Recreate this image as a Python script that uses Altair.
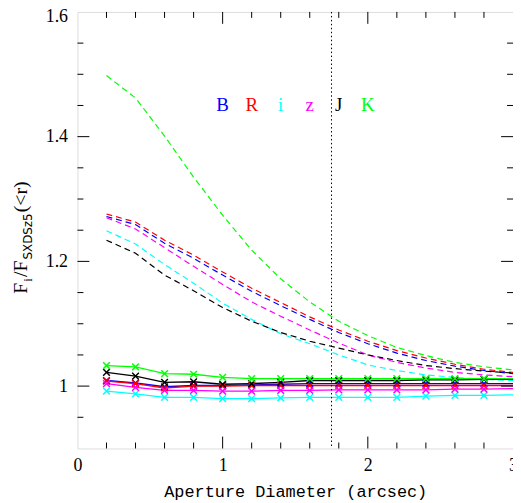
import altair as alt
import pandas as pd

# ---------------- data ----------------
bands = ["B", "R", "i", "z", "J", "K"]
band_colors = ["#0000ff", "#ff0000", "#00ffff", "#ff00ff", "#000000", "#00ff00"]

aperture = [0.2, 0.4, 0.6, 0.8, 1.0, 1.2, 1.4, 1.6, 1.8, 2.0, 2.2, 2.4, 2.6, 2.8, 3.0]

# solid lines (with x markers)
solid_B = [1.009, 1.005, 0.999, 1.001, 1.001, 1.002, 1.003, 1.004, 1.004, 1.004, 1.004, 1.004, 1.004, 1.004, 1.004]
solid_R = [1.008, 1.004, 0.997, 1.000, 1.000, 1.001, 1.001, 1.001, 1.001, 1.001, 1.001, 1.001, 1.001, 1.001, 1.001]
solid_i = [0.992, 0.9875, 0.982, 0.982, 0.980, 0.980, 0.981, 0.982, 0.982, 0.982, 0.982, 0.984, 0.985, 0.985, 0.986]
solid_z = [1.004, 0.998, 0.993, 0.993, 0.992, 0.992, 0.993, 0.993, 0.994, 0.994, 0.994, 0.994, 0.995, 0.995, 0.996]
solid_J = [1.022, 1.016, 1.006, 1.007, 1.003, 1.004, 1.006, 1.009, 1.009, 1.009, 1.009, 1.010, 1.010, 1.011, 1.011]
solid_K = [1.033, 1.031, 1.020, 1.019, 1.014, 1.012, 1.012, 1.012, 1.012, 1.012, 1.012, 1.012, 1.012, 1.012, 1.012]

# dashed lines
dash_B = [1.272, 1.259, 1.229, 1.205, 1.178, 1.152, 1.129, 1.107, 1.086, 1.068, 1.053, 1.041, 1.032, 1.025, 1.020]
dash_R = [1.276, 1.263, 1.234, 1.210, 1.183, 1.157, 1.134, 1.111, 1.090, 1.072, 1.057, 1.045, 1.035, 1.027, 1.022]
dash_i = [1.249, 1.228, 1.195, 1.165, 1.133, 1.107, 1.084, 1.068, 1.050, 1.034, 1.025, 1.018, 1.014, 1.011, 1.009]
dash_z = [1.270, 1.252, 1.222, 1.192, 1.163, 1.135, 1.112, 1.090, 1.069, 1.050, 1.038, 1.029, 1.022, 1.018, 1.015]
dash_J = [1.234, 1.213, 1.178, 1.153, 1.126, 1.104, 1.086, 1.072, 1.061, 1.050, 1.041, 1.033, 1.028, 1.024, 1.021]
dash_K = [1.498, 1.462, 1.401, 1.335, 1.274, 1.218, 1.172, 1.135, 1.104, 1.081, 1.062, 1.049, 1.038, 1.031, 1.026]

vline_x = 1.75

x_major = [1, 2]
x_minor = [0.2, 0.4, 0.6, 0.8, 1.2, 1.4, 1.6, 1.8, 2.2, 2.4, 2.6, 2.8]
y_major = [1.0, 1.2, 1.4]
y_minor = [0.95, 1.05, 1.1, 1.15, 1.25, 1.3, 1.35, 1.45, 1.5, 1.55]

label_x = [1.0, 1.2, 1.4, 1.6, 1.8, 2.0]
label_y = 1.45

# ---------------- tables ----------------
solid = {"B": solid_B, "R": solid_R, "i": solid_i, "z": solid_z, "J": solid_J, "K": solid_K}
dashed = {"B": dash_B, "R": dash_R, "i": dash_i, "z": dash_z, "J": dash_J, "K": dash_K}

rows_s, rows_d = [], []
for b in bands:
    for xv, yv in zip(aperture, solid[b]):
        rows_s.append({"x": xv, "y": yv, "band": b})
    for xv, yv in zip(aperture, dashed[b]):
        rows_d.append({"x": xv, "y": yv, "band": b})
df_s = pd.DataFrame(rows_s)
df_d = pd.DataFrame(rows_d)
df_lab = pd.DataFrame({"band": bands, "x": label_x, "y": [label_y] * len(bands)})

W, H = 439, 440
xs = alt.Scale(domain=[0, 3], nice=False, zero=False)
ys = alt.Scale(domain=[0.9, 1.6], nice=False, zero=False)
cs = alt.Scale(domain=bands, range=band_colors)

SERIF = "Liberation Serif"
MONO = "Liberation Mono"

X = alt.X("x:Q", scale=xs,
          axis=alt.Axis(values=[0, 1, 2, 3], format="d", domain=False, ticks=False, grid=False,
                        labelFont=SERIF, labelFontSize=18, labelColor="black", labelPadding=8,
                        labelFlush=False, labelOverlap=False,
                        title="Aperture Diameter (arcsec)", titleFont=MONO, titleFontSize=17,
                        titleFontWeight="normal", titleColor="black", titlePadding=9))
Y = alt.Y("y:Q", scale=ys,
          axis=alt.Axis(values=[1.0, 1.2, 1.4, 1.6], format="~g", domain=False, ticks=False, grid=False,
                        labelFont=SERIF, labelFontSize=18, labelColor="black", labelPadding=10,
                        labelOffset={"condition": {"test": "datum.value >= 1.59", "value": 5}, "value": 0},
                        labelFlush=False, labelOverlap=False, title=None))
C = alt.Color("band:N", scale=cs, legend=None)

dash_layer = alt.Chart(df_d).mark_line(strokeWidth=1.2, strokeDash=[6, 4], clip=True).encode(
    x=X, y=Y, color=C, detail="band:N")
solid_layer = alt.Chart(df_s).mark_line(strokeWidth=1.3, clip=True).encode(
    x=X, y=Y, color=C, detail="band:N")
marks_layer = alt.Chart(df_s).transform_filter("datum.x <= 2.85").mark_point(
    shape="M-1,-1L1,1M-1,1L1,-1", size=45, filled=False, strokeWidth=1.5, opacity=1).encode(
    x=X, y=Y, color=C, detail="band:N")

vline = alt.Chart(pd.DataFrame({"x": [vline_x]})).mark_rule(
    color="black", strokeWidth=1, strokeDash=[1.5, 2.5]).encode(x=alt.X("x:Q", scale=xs))

labels = alt.Chart(df_lab).mark_text(font=SERIF, fontSize=19, baseline="middle", align="center").encode(
    x=alt.X("x:Q", scale=xs), y=alt.Y("y:Q", scale=ys), text="band:N", color=C)

# inward tick marks on all four sides
def xticks(vals, length):
    d = pd.DataFrame({"x": vals})
    bot = alt.Chart(d).mark_rule(color="black", strokeWidth=1).encode(
        x=alt.X("x:Q", scale=xs), y=alt.value(H), y2=alt.value(H - length))
    top = alt.Chart(d).mark_rule(color="black", strokeWidth=1).encode(
        x=alt.X("x:Q", scale=xs), y=alt.value(0), y2=alt.value(length))
    return [bot, top]

def yticks(vals, length):
    d = pd.DataFrame({"y": vals})
    left = alt.Chart(d).mark_rule(color="black", strokeWidth=1).encode(
        y=alt.Y("y:Q", scale=ys), x=alt.value(0), x2=alt.value(length))
    right = alt.Chart(d).mark_rule(color="black", strokeWidth=1).encode(
        y=alt.Y("y:Q", scale=ys), x=alt.value(W), x2=alt.value(W - length))
    return [left, right]

tick_layers = xticks(x_major, 12) + xticks(x_minor, 6) + yticks(y_major, 12) + yticks(y_minor, 6)

# y-axis title with subscripts, built from text pieces (rotated)
one = pd.DataFrame({"a": [0]})
pieces = [
    ("F", SERIF, 20, False),
    ("i", SERIF, 13, True),
    ("/F", SERIF, 20, False),
    ("SXDSz5", "DejaVu Sans", 12, True),
    ("(<r)", SERIF, 20, False),
]
widths = {"F": 0.556, "i": 0.278, "/F": 0.278 + 0.556, "SXDSz5": 3.886, "(<r)": 1.564}
ypos = 284.0
title_layers = []
for txt, fnt, fs, sub in pieces:
    title_layers.append(
        alt.Chart(one).mark_text(text=txt, font=fnt, fontSize=fs, angle=270, align="left",
                                 baseline="alphabetic", color="black").encode(
            x=alt.value(-46 if sub else -51), y=alt.value(ypos)))
    ypos -= widths[txt] * fs + 1.0

chart = alt.layer(dash_layer, solid_layer, marks_layer, vline, labels,
                  *tick_layers, *title_layers).properties(
    width=W, height=H,
    autosize=alt.AutoSizeParams(type="none"),
    padding={"left": 70, "top": 2, "right": 0, "bottom": 53},
).configure_view(stroke="black", strokeWidth=2).configure(background="white")

chart.save("out.html", embed_options={"renderer": "svg", "actions": False})
